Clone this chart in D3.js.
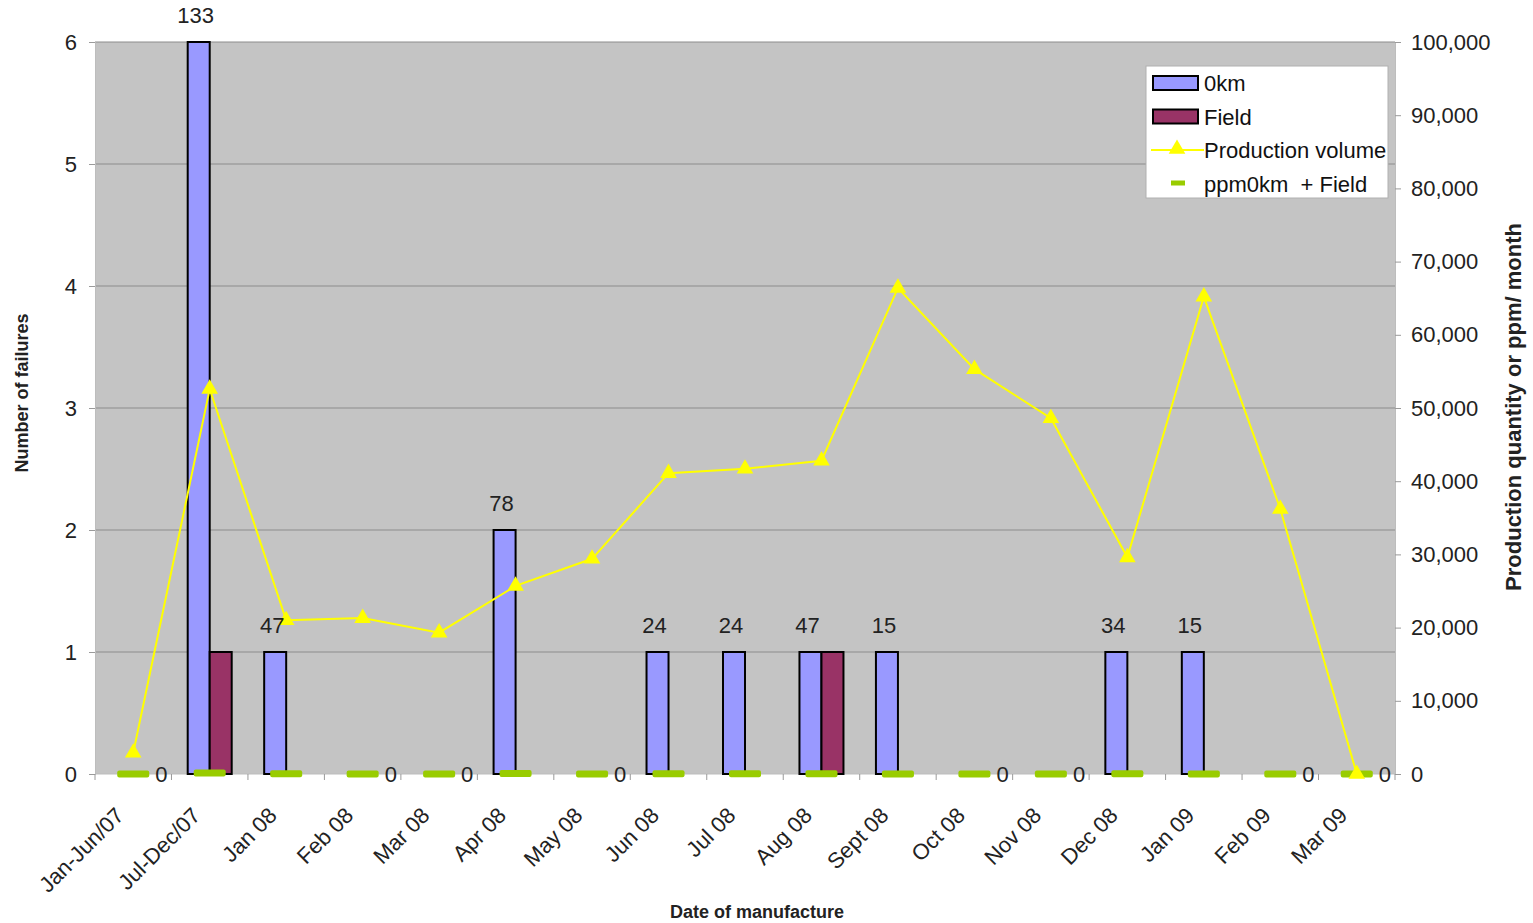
<!DOCTYPE html>
<html>
<head>
<meta charset="utf-8">
<script src="https://cdn.jsdelivr.net/npm/d3@7"></script>
<style>
  html, body { margin: 0; padding: 0; background: #ffffff; }
  svg { display: block; font-family: "Liberation Sans", Arial, sans-serif; }
</style>
</head>
<body>
<svg id="chart" width="1533" height="923"></svg>
<script>
// Manufacturing months
const categories = ["Jan-Jun/07", "Jul-Dec/07", "Jan 08", "Feb 08", "Mar 08", "Apr 08", "May 08",
  "Jun 08", "Jul 08", "Aug 08", "Sept 08", "Oct 08", "Nov 08", "Dec 08", "Jan 09", "Feb 09", "Mar 09"];

// Failures per month (left axis)
const failures0km   = [0, 6, 1, 0, 0, 2, 0, 1, 1, 1, 1, 0, 0, 1, 1, 0, 0];
const failuresField = [0, 1, 0, 0, 0, 0, 0, 0, 0, 1, 0, 0, 0, 0, 0, 0, 0];

// Production volume per month (right axis)
const production = [2900, 52600, 21000, 21300, 19300, 25700, 29400, 41100, 41700, 42800,
  66400, 55300, 48600, 29600, 65200, 36200, 0];

// ppm 0km + Field per month (right axis)
const ppm = [0, 133, 47, 0, 0, 78, 0, 24, 24, 47, 15, 0, 0, 34, 15, 0, 0];

const leftTicks = [0, 1, 2, 3, 4, 5, 6];
const rightTicks = [0, 10000, 20000, 30000, 40000, 50000, 60000, 70000, 80000, 90000, 100000];

const colors = { km: "#9999ff", field: "#993366", line: "#ffff00", ppm: "#99cc00", plot: "#c4c4c4" };
const fs = 22;

const svg = d3.select("#chart");
const m = { left: 95, right: 1395, top: 42, bottom: 774 };

const x = d3.scaleBand().domain(categories).range([m.left, m.right]).paddingInner(0).paddingOuter(0);
const yL = d3.scaleLinear().domain([0, 6]).range([m.bottom, m.top]);
const yR = d3.scaleLinear().domain([0, 100000]).range([m.bottom, m.top]);
const cx = c => x(c) + x.bandwidth() / 2;
const barW = 22;

// plot background
svg.append("rect")
  .attr("x", m.left).attr("y", m.top)
  .attr("width", m.right - m.left).attr("height", m.bottom - m.top)
  .attr("fill", colors.plot);

// horizontal gridlines
svg.append("g").selectAll("line").data(leftTicks.filter(d => d > 0)).join("line")
  .attr("x1", m.left).attr("x2", m.right)
  .attr("y1", d => yL(d)).attr("y2", d => yL(d))
  .attr("stroke", "#8c8c8c").attr("stroke-width", 1);

// left axis
const axL = svg.append("g").attr("transform", `translate(${m.left},0)`)
  .call(d3.axisLeft(yL).tickValues(leftTicks).tickFormat(d3.format("d")).tickSize(6).tickPadding(12));
axL.select(".domain").attr("stroke", "#bdbdbd");
axL.selectAll(".tick line").attr("stroke", "#9a9a9a");
axL.selectAll("text").attr("font-size", fs).attr("fill", "#222");

// right axis
const axR = svg.append("g").attr("transform", `translate(${m.right},0)`)
  .call(d3.axisRight(yR).tickValues(rightTicks).tickFormat(d3.format(",")).tickSize(6).tickPadding(10));
axR.select(".domain").attr("stroke", "#bdbdbd");
axR.selectAll(".tick line").attr("stroke", "#9a9a9a");
axR.selectAll("text").attr("font-size", fs).attr("fill", "#222");

// bottom axis with ticks at category boundaries
const axB = svg.append("g").attr("transform", `translate(0,${m.bottom})`);
axB.append("line").attr("x1", m.left).attr("x2", m.right).attr("y1", 0).attr("y2", 0).attr("stroke", "#bdbdbd");
axB.selectAll("line.tk").data(categories.concat([null])).join("line").attr("class", "tk")
  .attr("x1", (d, i) => m.left + i * x.bandwidth()).attr("x2", (d, i) => m.left + i * x.bandwidth())
  .attr("y1", 0).attr("y2", 6).attr("stroke", "#9a9a9a");
axB.selectAll("text").data(categories).join("text")
  .attr("transform", d => `translate(${cx(d) - 19},${32}) rotate(-45)`)
  .attr("text-anchor", "end").attr("dy", "0.7em")
  .attr("font-size", fs).attr("fill", "#222")
  .text(d => d);

// bars: 0km
svg.append("g").selectAll("rect").data(categories.map((c, i) => ({ c, v: failures0km[i] })).filter(d => d.v > 0))
  .join("rect")
  .attr("x", d => cx(d.c) - barW).attr("width", barW)
  .attr("y", d => yL(d.v)).attr("height", d => yL(0) - yL(d.v))
  .attr("fill", colors.km).attr("stroke", "#000").attr("stroke-width", 2);

// bars: Field
svg.append("g").selectAll("rect").data(categories.map((c, i) => ({ c, v: failuresField[i] })).filter(d => d.v > 0))
  .join("rect")
  .attr("x", d => cx(d.c)).attr("width", barW)
  .attr("y", d => yL(d.v)).attr("height", d => yL(0) - yL(d.v))
  .attr("fill", colors.field).attr("stroke", "#000").attr("stroke-width", 2);

// ppm markers (right axis)
svg.append("g").selectAll("rect").data(categories.map((c, i) => ({ c, v: ppm[i] })))
  .join("rect")
  .attr("x", d => cx(d.c) - 16).attr("width", 32)
  .attr("y", d => yR(d.v) - 3.5).attr("height", 7)
  .attr("rx", 2)
  .attr("fill", colors.ppm);

// production volume line
const line = d3.line().x((d, i) => cx(categories[i])).y(d => yR(d));
svg.append("path").datum(production)
  .attr("d", line).attr("fill", "none").attr("stroke", colors.line).attr("stroke-width", 2);
const tri = d3.symbol().type(d3.symbolTriangle).size(120);
svg.append("g").selectAll("path").data(production).join("path")
  .attr("transform", (d, i) => `translate(${cx(categories[i])},${yR(d)})`)
  .attr("d", tri).attr("fill", colors.line);

// ppm value labels
svg.append("g").selectAll("text").data(categories.map((c, i) => ({ c, v: ppm[i], b: failures0km[i] })))
  .join("text")
  .attr("x", d => d.b > 0 ? cx(d.c) - barW / 2 - 3 : cx(d.c) + 22)
  .attr("y", d => d.b > 0 ? yL(d.b) - 19 : yR(d.v) + 8)
  .attr("text-anchor", d => d.b > 0 ? "middle" : "start")
  .attr("font-size", fs).attr("fill", "#222")
  .text(d => d.v);

// axis titles
svg.append("text")
  .attr("transform", `translate(28,393) rotate(-90)`)
  .attr("text-anchor", "middle").attr("font-size", 18).attr("font-weight", "bold").attr("fill", "#222")
  .text("Number of failures");
svg.append("text")
  .attr("transform", `translate(1521,407) rotate(-90)`)
  .attr("text-anchor", "middle").attr("font-size", 22).attr("font-weight", "bold").attr("fill", "#222")
  .text("Production quantity or ppm/ month");
svg.append("text")
  .attr("x", 757).attr("y", 918)
  .attr("text-anchor", "middle").attr("font-size", 18).attr("font-weight", "bold").attr("fill", "#222")
  .text("Date of manufacture");

// legend
const lg = svg.append("g").attr("transform", "translate(1146,66)");
lg.append("rect").attr("width", 242).attr("height", 132).attr("fill", "#fff").attr("stroke", "#b0b0b0");
const items = [
  { name: "0km", type: "bar", color: colors.km },
  { name: "Field", type: "bar", color: colors.field },
  { name: "Production volume", type: "line", color: colors.line },
  { name: "ppm0km\u00a0\u00a0+ Field", type: "dash", color: colors.ppm }
];
items.forEach((it, i) => {
  const gy = 17 + i * 33.5;
  const g = lg.append("g").attr("transform", `translate(0,${gy})`);
  if (it.type === "bar") {
    g.append("rect").attr("x", 7).attr("y", -7).attr("width", 45).attr("height", 14)
      .attr("fill", it.color).attr("stroke", "#000").attr("stroke-width", 2);
  } else if (it.type === "line") {
    g.append("line").attr("x1", 5).attr("x2", 58).attr("y1", 0).attr("y2", 0)
      .attr("stroke", it.color).attr("stroke-width", 2);
    g.append("path").attr("transform", "translate(31,-1)").attr("d", tri).attr("fill", it.color);
  } else {
    g.append("rect").attr("x", 25).attr("y", -3).attr("width", 14).attr("height", 5).attr("fill", it.color);
  }
  g.append("text").attr("x", 58).attr("y", 8).attr("font-size", fs).attr("fill", "#111").text(it.name);
});
</script>
</body>
</html>
